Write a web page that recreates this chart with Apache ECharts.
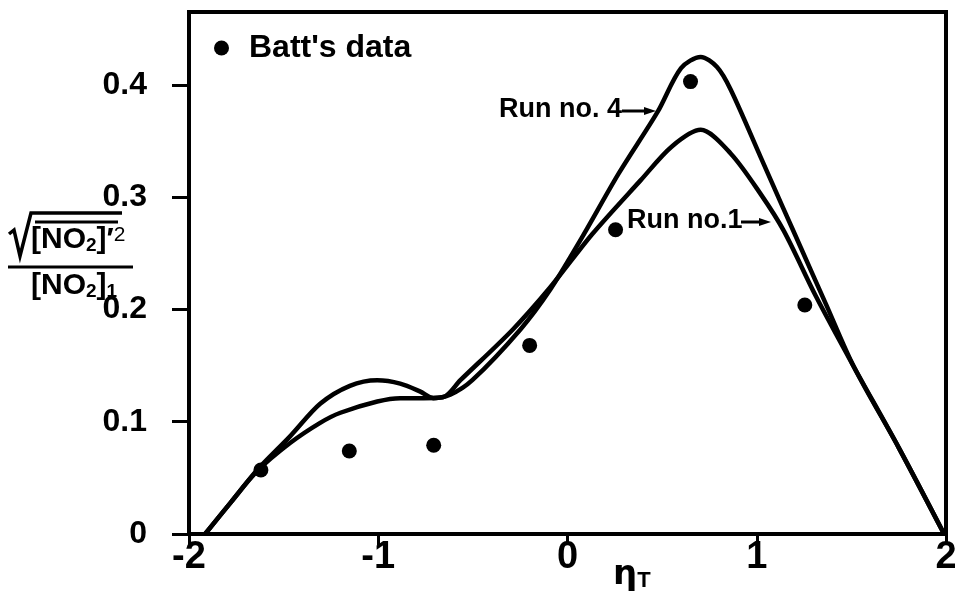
<!DOCTYPE html>
<html>
<head>
<meta charset="utf-8">
<script src="https://cdn.jsdelivr.net/npm/echarts@6/dist/echarts.min.js"></script>
<style>
html,body{margin:0;padding:0;background:#fff;}
#main{width:955px;height:603px;}
</style>
</head>
<body>
<div id="main"></div>
<script>
// ---- data ----
const xTickValues = [-2, -1, 0, 1, 2];
const yTickValues = [0, 0.1, 0.2, 0.3, 0.4];

const battX = [-1.62, -1.153, -0.707, -0.2, 0.254, 0.65, 1.254];
const battY = [0.057, 0.074, 0.079, 0.168, 0.271, 0.403, 0.204];

const run4X = [-1.915, -1.78, -1.64, -1.466, -1.307, -1.15, -1.005, -0.884, -0.78, -0.709, -0.62, -0.503, -0.25, -0.09, 0.069, 0.27, 0.476, 0.6, 0.704, 0.79, 0.862, 1.02, 1.138, 1.233, 1.365, 1.513, 1.75, 1.99];
const run4Y = [0, 0.028, 0.057, 0.087, 0.116, 0.132, 0.137, 0.134, 0.127, 0.121, 0.124, 0.137, 0.182, 0.218, 0.262, 0.321, 0.376, 0.415, 0.425, 0.416, 0.396, 0.336, 0.291, 0.255, 0.205, 0.149, 0.077, 0];

const run1X = [-1.915, -1.78, -1.64, -1.466, -1.307, -1.2, -1.005, -0.884, -0.76, -0.656, -0.566, -0.29, -0.09, 0.13, 0.386, 0.55, 0.704, 0.862, 1.02, 1.143, 1.312, 1.513, 1.75, 1.99];
const run1Y = [0, 0.028, 0.056, 0.081, 0.099, 0.108, 0.118, 0.121, 0.121, 0.122, 0.137, 0.182, 0.22, 0.267, 0.315, 0.345, 0.36, 0.339, 0.303, 0.27, 0.212, 0.149, 0.077, 0];

const seriesNames = ["Batt's data", 'Run no. 4', 'Run no.1'];

// ---- chart ----
const FONT = "'Liberation Sans',Arial,sans-serif";
const zip = (a, b) => a.map((v, i) => [v, b[i]]);

const chart = echarts.init(document.getElementById('main'), null, {renderer: 'canvas'});

const option = {
  backgroundColor: '#fff',
  animation: false,
  grid: {left: 189, right: 9, top: 12, bottom: 69, containLabel: false, outerBoundsMode: 'none',
    show: true, borderColor: '#000', borderWidth: 4, backgroundColor: 'transparent'},
  legend: {
    data: [seriesNames[0]],
    left: 209, top: 27,
    icon: 'circle', itemWidth: 25, itemHeight: 15,
    itemStyle: {opacity: 1, color: '#000'},
    textStyle: {fontFamily: FONT, fontWeight: 'bold', fontSize: 32, color: '#000', padding: [0, 0, 0, 10]}
  },
  xAxis: {
    type: 'value', min: -2, max: 2, interval: 1,
    axisLine: {show: true, onZero: false, lineStyle: {color: '#000', width: 4}},
    axisTick: {show: true, inside: false, length: 11, lineStyle: {color: '#000', width: 3}, customValues: xTickValues},
    axisLabel: {customValues: xTickValues, fontFamily: FONT, fontWeight: 'bold', fontSize: 38, color: '#000', margin: 5,
      formatter: v => String(v)},
    splitLine: {show: false}
  },
  yAxis: {
    type: 'value', min: 0, max: 0.465, interval: 0.1,
    axisLine: {show: true, onZero: false, lineStyle: {color: '#000', width: 4}},
    axisTick: {show: true, inside: false, length: 17, lineStyle: {color: '#000', width: 3}, customValues: yTickValues},
    axisLabel: {customValues: yTickValues, fontFamily: FONT, fontWeight: 'bold', fontSize: 32, color: '#000', margin: 42,
      formatter: v => String(Math.round(v * 10) / 10)},
    splitLine: {show: false}
  },
  series: [
    {name: seriesNames[0], type: 'scatter', data: zip(battX, battY), symbol: 'circle', symbolSize: 15,
      itemStyle: {color: '#000', opacity: 1}, z: 5},
    {name: seriesNames[1], type: 'line', data: zip(run4X, run4Y), smooth: 0.3, showSymbol: false,
      lineStyle: {color: '#000', width: 4.5}, z: 3},
    {name: seriesNames[2], type: 'line', data: zip(run1X, run1Y), smooth: 0.3, showSymbol: false,
      lineStyle: {color: '#000', width: 4.5}, z: 3}
  ],
  graphic: [
    // y-axis title: sqrt( mean [NO2]'^2 ) / [NO2]_1
    {type: 'polyline', shape: {points: [[9, 234], [14, 230], [20, 256], [31, 213], [122, 213]]},
      style: {stroke: '#000', lineWidth: 3.5, fill: null}},
    {type: 'line', shape: {x1: 35, y1: 222, x2: 118, y2: 222}, style: {stroke: '#000', lineWidth: 3}},
    {type: 'text', left: 31, top: 225, style: {
      text: '{a|[NO}{b|2}{a|]′}{c|2}', fill: '#000',
      rich: {
        a: {fontFamily: FONT, fontWeight: 'bold', fontSize: 30, fill: '#000'},
        b: {fontFamily: FONT, fontWeight: 'bold', fontSize: 19, fill: '#000', verticalAlign: 'bottom'},
        c: {fontFamily: FONT, fontSize: 21, fill: '#000', verticalAlign: 'top'}
      }}},
    {type: 'line', shape: {x1: 8, y1: 267, x2: 133, y2: 267}, style: {stroke: '#000', lineWidth: 3}},
    {type: 'text', left: 31, top: 271, style: {
      text: '{a|[NO}{b|2}{a|]}{b|1}', fill: '#000',
      rich: {
        a: {fontFamily: FONT, fontWeight: 'bold', fontSize: 30, fill: '#000'},
        b: {fontFamily: FONT, fontWeight: 'bold', fontSize: 19, fill: '#000', verticalAlign: 'bottom'}
      }}},
    // x-axis title: eta_T
    {type: 'text', left: 613, top: 558, style: {
      text: '{a|η}{b|T}', fill: '#000',
      rich: {
        a: {fontFamily: 'DejaVu Sans', fontWeight: 'bold', fontSize: 34, fill: '#000'},
        b: {fontFamily: FONT, fontWeight: 'bold', fontSize: 22, fill: '#000', verticalAlign: 'bottom'}
      }}},
    // annotation: Run no. 4
    {type: 'text', left: 499, top: 96, style: {text: 'Run no. 4', fontFamily: FONT, fontWeight: 'bold', fontSize: 27, fill: '#000'}},
    {type: 'line', shape: {x1: 622, y1: 111, x2: 650, y2: 111}, style: {stroke: '#000', lineWidth: 3}},
    {type: 'polygon', shape: {points: [[656, 111], [644, 107], [644, 115]]}, style: {fill: '#000'}},
    // annotation: Run no.1
    {type: 'text', left: 627, top: 207, style: {text: 'Run no.1', fontFamily: FONT, fontWeight: 'bold', fontSize: 27, fill: '#000'}},
    {type: 'line', shape: {x1: 741, y1: 222, x2: 765, y2: 222}, style: {stroke: '#000', lineWidth: 3}},
    {type: 'polygon', shape: {points: [[771, 222], [759, 218], [759, 226]]}, style: {fill: '#000'}}
  ]
};
chart.setOption(option);
</script>
</body>
</html>
